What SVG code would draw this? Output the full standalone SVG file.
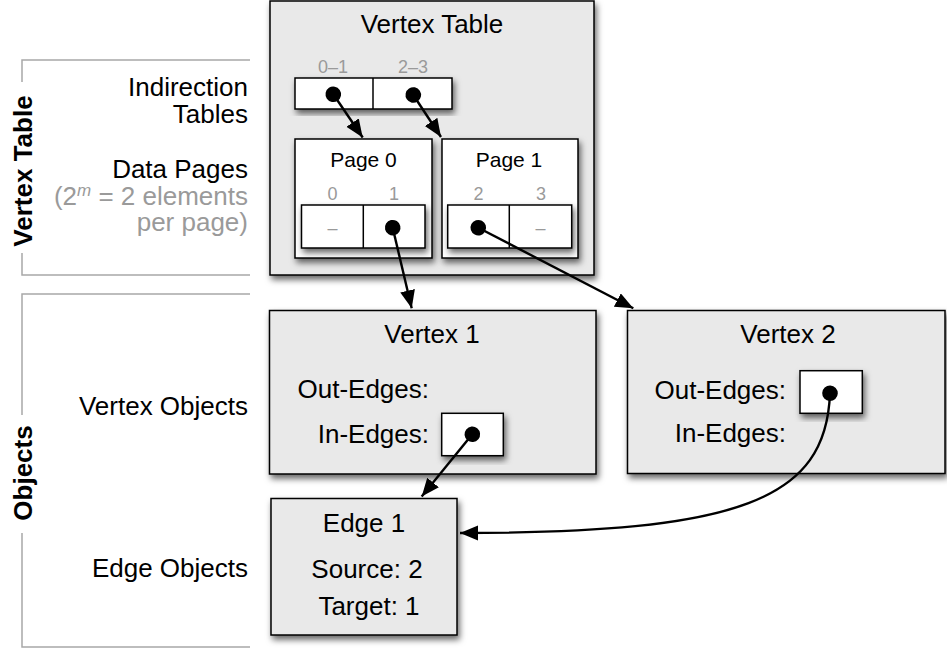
<svg xmlns="http://www.w3.org/2000/svg" width="947" height="656" viewBox="0 0 947 656">
<style>
text{font-family:"Liberation Sans",Arial,Helvetica,sans-serif;fill:#000}
.t{font-size:26px}
.b{font-size:26px;font-weight:bold}
.g{fill:#9a9a9a}
.p{font-size:21px}
.i{font-size:18px;fill:#9a9a9a}
.m{text-anchor:middle}
.e{text-anchor:end}
.box{fill:#e9e9e9;stroke:#000;stroke-width:1.5;filter:url(#sh)}
.cell{fill:#fff;stroke:#000;stroke-width:1.5;filter:url(#sh)}
.div{stroke:#000;stroke-width:1.5}
.br{fill:none;stroke:#a8a8a8;stroke-width:1.5}
.c{fill:none;stroke:#000;stroke-width:2.4;marker-start:url(#dot);marker-end:url(#arr)}
</style>
<defs>
<filter id="sh" x="-20%" y="-20%" width="140%" height="140%">
<feDropShadow dx="2" dy="4" stdDeviation="3" flood-color="#000" flood-opacity="0.6"/>
</filter>
<marker id="arr" markerUnits="userSpaceOnUse" markerWidth="20" markerHeight="16" refX="18" refY="7.5" orient="auto">
<path d="M0,0 L18,7.5 L0,15 z" fill="#000"/>
</marker>
<marker id="dot" markerUnits="userSpaceOnUse" markerWidth="18" markerHeight="18" refX="9" refY="9" orient="auto">
<circle cx="9" cy="9" r="7.8" fill="#000"/>
</marker>
</defs>

<g id="legend-vertex-table">
<path class="br" d="M250,60 H22 V82 M22,253 V275 H250"/>
<text class="b m" transform="translate(31.5,171) rotate(-90)">Vertex Table</text>
<text class="t e" x="248" y="96">Indirection</text>
<text class="t e" x="248" y="123">Tables</text>
<text class="t e" x="248" y="178">Data Pages</text>
<text class="t e g" x="248" y="205">(2<tspan dy="-9" font-size="17" font-style="italic">m</tspan><tspan dy="9"> = 2 elements</tspan></text>
<text class="t e g" x="248" y="231">per page)</text>
</g>

<g id="legend-objects">
<path class="br" d="M250,294 H22 V415 M22,533 V647 H250"/>
<text class="b m" transform="translate(31.5,473) rotate(-90)">Objects</text>
<text class="t e" x="248" y="415">Vertex Objects</text>
<text class="t e" x="248" y="577">Edge Objects</text>
</g>

<g id="vertex-table">
<rect class="box" x="270" y="1" width="324" height="274"/>
<text class="t m" x="432" y="33">Vertex Table</text>
</g>

<g id="indirection-table">
<text class="i m" x="333" y="73">0–1</text>
<text class="i m" x="413" y="73">2–3</text>
<rect class="cell" x="295" y="78" width="157" height="31"/>
<line class="div" x1="373" y1="78" x2="373" y2="109"/>
</g>

<g id="page-0">
<rect class="cell" x="295" y="139" width="137" height="119"/>
<text class="p m" x="363.5" y="167">Page 0</text>
<text class="i m" x="332.5" y="200">0</text>
<text class="i m" x="394" y="200">1</text>
<rect class="cell" x="301.5" y="205" width="123.5" height="43"/>
<line class="div" x1="363.3" y1="205" x2="363.3" y2="248"/>
<text class="i m" x="332.5" y="234" font-size="20">–</text>
</g>

<g id="page-1">
<rect class="cell" x="442" y="139" width="136" height="119"/>
<text class="p m" x="509" y="167">Page 1</text>
<text class="i m" x="478.5" y="200">2</text>
<text class="i m" x="541" y="200">3</text>
<rect class="cell" x="447.7" y="205" width="124" height="43"/>
<line class="div" x1="509.3" y1="205" x2="509.3" y2="248"/>
<text class="i m" x="540.5" y="234" font-size="20">–</text>
</g>

<g id="vertex-1">
<rect class="box" x="269.5" y="310.5" width="326.5" height="163.5"/>
<text class="t m" x="432" y="343">Vertex 1</text>
<text class="t e" x="429" y="398">Out-Edges:</text>
<text class="t e" x="429" y="443">In-Edges:</text>
<rect class="cell" x="441.7" y="413.3" width="61.6" height="42.4"/>
</g>

<g id="vertex-2">
<rect class="box" x="627.5" y="310.5" width="317.5" height="163"/>
<text class="t m" x="788" y="343">Vertex 2</text>
<text class="t e" x="786" y="399">Out-Edges:</text>
<text class="t e" x="786" y="442">In-Edges:</text>
<rect class="cell" x="800" y="370.7" width="62.3" height="42.6"/>
</g>

<g id="edge-1">
<rect class="box" x="271" y="498.5" width="186" height="136.5"/>
<text class="t m" x="364" y="532">Edge 1</text>
<text class="t m" x="367" y="578">Source: 2</text>
<text class="t m" x="369" y="615">Target: 1</text>
</g>

<g id="connectors">
<path class="c" d="M333.3,94.3 L362.7,137.5"/>
<path class="c" d="M413.3,95 L441,137"/>
<path class="c" d="M392.7,227.7 L411.7,308.3"/>
<path class="c" d="M478.3,227.7 L633.3,308.3"/>
<path class="c" d="M472.3,434.3 L421.7,496.5"/>
<path class="c" d="M830,393.3 C826,500 740,533 460,533"/>
</g>
</svg>
